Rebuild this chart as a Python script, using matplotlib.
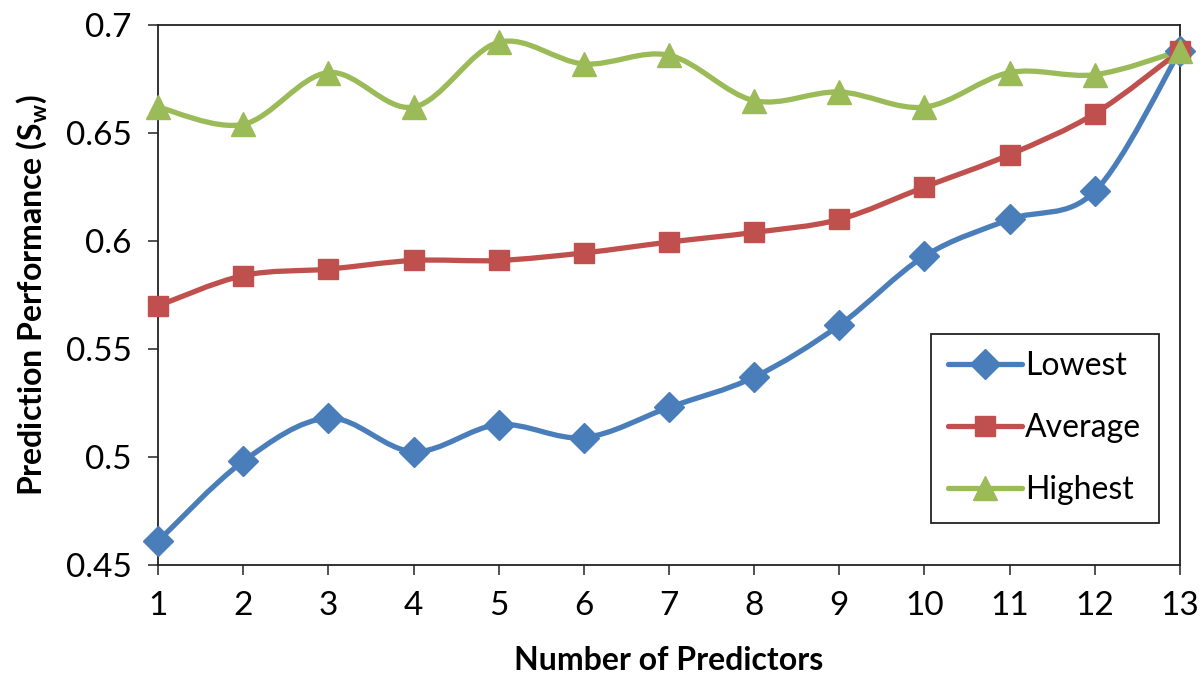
import matplotlib
matplotlib.use("Agg")
import matplotlib.pyplot as plt
from matplotlib.path import Path
from matplotlib.patches import PathPatch
from matplotlib.lines import Line2D
import numpy as np

plt.rcParams['font.family'] = ['Lato', 'DejaVu Sans']
plt.rcParams['mathtext.fontset'] = 'custom'
plt.rcParams['mathtext.bf'] = 'Lato:bold'
plt.rcParams['mathtext.rm'] = 'Lato'

predictors = [1, 2, 3, 4, 5, 6, 7, 8, 9, 10, 11, 12, 13]
lowest = [0.461, 0.498, 0.518, 0.5025, 0.515, 0.509, 0.523, 0.537, 0.561, 0.593, 0.610, 0.623, 0.688]
average = [0.570, 0.584, 0.587, 0.591, 0.591, 0.5945, 0.5995, 0.604, 0.610, 0.625, 0.640, 0.659, 0.688]
highest = [0.662, 0.654, 0.678, 0.662, 0.692, 0.682, 0.686, 0.665, 0.669, 0.662, 0.678, 0.677, 0.688]
labels = ["Lowest", "Average", "Highest"]
colors = ["#4A7EBB", "#C0504D", "#9BBB59"]
markers = ["D", "s", "^"]
msizes = [15, 15, 17]


# smooth line through the points, like excel "smoothed line"
def smooth_path(x, y):
    p = np.column_stack([x, y]).astype(float)
    verts = [p[0]]
    codes = [Path.MOVETO]
    n = len(p)
    for i in range(n - 1):
        p0 = p[i - 1] if i > 0 else p[i]
        p3 = p[i + 2] if i + 2 < n else p[i + 1]
        c1 = p[i] + (p[i + 1] - p0) / 6
        c2 = p[i + 1] - (p3 - p[i]) / 6
        verts += [c1, c2, p[i + 1]]
        codes += [Path.CURVE4] * 3
    return Path(verts, codes)


fig = plt.figure(figsize=(12, 6.91), dpi=100)
ax = fig.add_axes([0.1317, 0.1823, 0.8516, 0.7815])

handles = []
for vals, lab, col, mk, ms in zip([lowest, average, highest], labels, colors, markers, msizes):
    patch = PathPatch(smooth_path(predictors, vals), fill=False, edgecolor=col, lw=3.8,
                      capstyle='butt', joinstyle='round')
    ax.add_patch(patch)
    ax.plot(predictors, vals, ls='none', marker=mk, ms=ms, color=col, mec=col, clip_on=False, zorder=3)
    handles.append(Line2D([], [], color=col, lw=3.8, marker=mk, ms=ms, mec=col,
                          solid_capstyle='round'))

ax.set_xlim(1, 13)
ax.set_ylim(0.45, 0.7)
ax.set_xticks(predictors)
ax.set_yticks([0.45, 0.5, 0.55, 0.6, 0.65, 0.7])
ax.set_yticklabels(["0.45", "0.5", "0.55", "0.6", "0.65", "0.7"])
ax.tick_params(labelsize=24, length=7, width=1.2, color="#333333", direction='out')
ax.tick_params(axis='y', pad=12)
ax.tick_params(axis='x', pad=12)
for s in ax.spines.values():
    s.set_linewidth(1.3)
    s.set_color("#222222")

ax.set_xlabel("Number of Predictors", fontsize=23, fontweight='bold', labelpad=18)
ax.set_ylabel(r"Prediction Performance (S$_\mathbf{w}$)", fontsize=23, fontweight='bold', labelpad=12)

leg = ax.legend(handles, labels, loc='upper left', bbox_to_anchor=(0.756, 0.428),
                fontsize=23, handlelength=2.3, handletextpad=0.1, labelspacing=1.0,
                borderpad=0.55, borderaxespad=0, fancybox=False, framealpha=1, edgecolor="#222222")
leg.get_frame().set_linewidth(1.3)

fig.savefig("out.png", dpi=100)
